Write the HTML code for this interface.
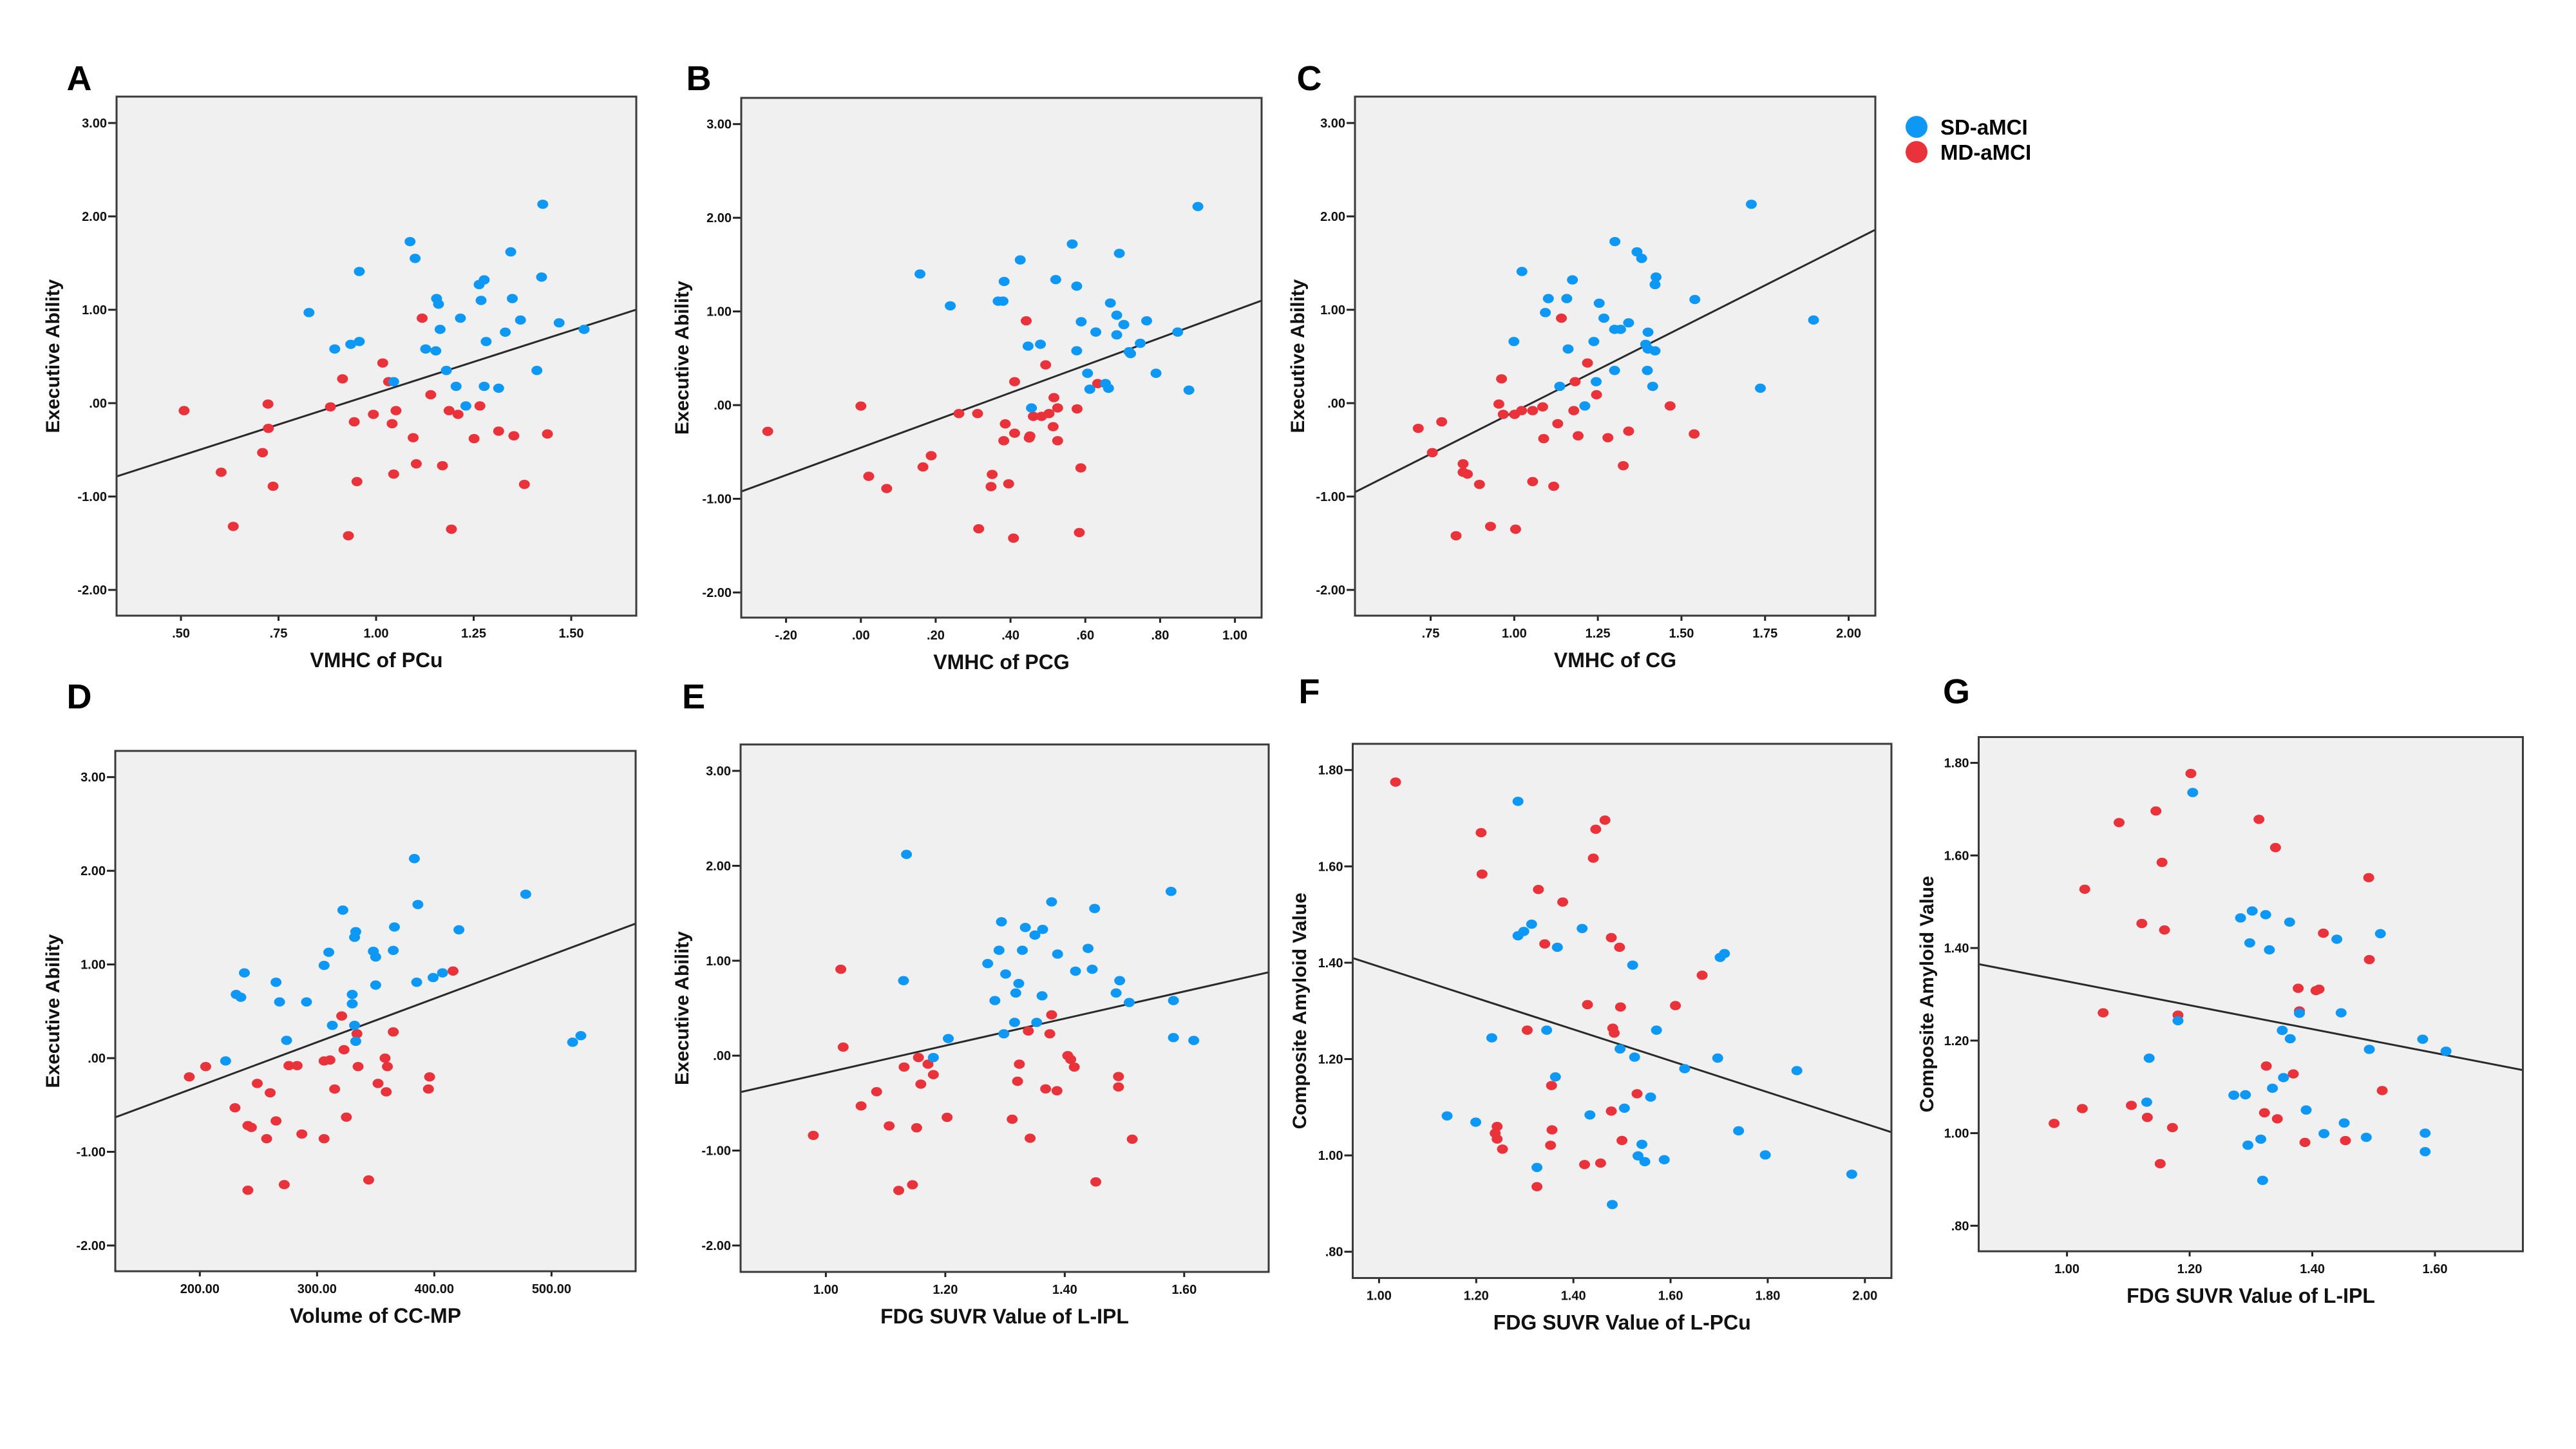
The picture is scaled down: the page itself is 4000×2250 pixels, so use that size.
<!DOCTYPE html>
<html><head><meta charset="utf-8">
<style>
html,body{margin:0;padding:0;background:#fff;}
svg{display:block;font-family:"Liberation Sans",Arial,sans-serif;}
</style></head>
<body>
<svg id="fig" width="4000" height="2250" viewBox="0 0 4000 2250" xmlns="http://www.w3.org/2000/svg">
<rect x="0" y="0" width="4000" height="2250" fill="#ffffff"/>
<g>
  <ellipse cx="2976" cy="197" rx="17" ry="17" fill="#0e98f5"/>
  <text x="3013" y="209" font-size="33" font-weight="bold" fill="#000">SD-aMCI</text>
  <ellipse cx="2976" cy="236" rx="17" ry="17" fill="#e9323a"/>
  <text x="3013" y="248" font-size="33" font-weight="bold" fill="#000">MD-aMCI</text>
</g>
</svg>
<script>
// ---------- DATA ----------
const eaTicks = [3, 2, 1, 0, -1, -2];
const amyTicks = [1.8, 1.6, 1.4, 1.2, 1.0, 0.8];
const xTicksA = [0.5, 0.75, 1.0, 1.25, 1.5];
const xTicksB = [-0.2, 0, 0.2, 0.4, 0.6, 0.8, 1.0];
const xTicksC = [0.75, 1.0, 1.25, 1.5, 1.75, 2.0];
const xTicksD = [200, 300, 400, 500];
const xTicksE = [1.0, 1.2, 1.4, 1.6];
const xTicksF = [1.0, 1.2, 1.4, 1.6, 1.8, 2.0];
const xTicksG = [1.0, 1.2, 1.4, 1.6];

const blueXA = [.828,.894,.935,.957,.957,1.087,1.10,1.127,1.153,1.155,1.16,1.164,1.18,1.045,1.205,1.216,1.23,1.264,1.269,1.277,1.277,1.282,1.314,1.331,1.345,1.349,1.37,1.412,1.424,1.427,1.469,1.533];
const blueYA = [.97,.58,.63,.66,1.41,1.73,1.55,.58,.56,1.12,1.06,.79,.35,.23,.18,.91,-.03,1.27,1.10,1.32,.18,.66,.16,.76,1.62,1.12,.89,.35,1.35,2.13,.86,.79];
const redXA = [.508,.603,.634,.709,.723,.724,.736,.883,.914,.929,.944,.951,.993,1.017,1.032,1.041,1.045,1.051,1.095,1.103,1.118,1.14,1.17,1.187,1.193,1.21,1.251,1.266,1.314,1.353,1.38,1.439];
const redYA = [-.08,-.74,-1.32,-.53,-.01,-.27,-.89,-.04,.26,-1.42,-.20,-.84,-.12,.43,.23,-.22,-.76,-.08,-.37,-.65,.91,.09,-.67,-.08,-1.35,-.12,-.38,-.03,-.30,-.35,-.87,-.33];
const fitA = [-1.234, 1.341];

const blueXB = [.158,.239,.367,.38,.383,.426,.447,.48,.456,.521,.565,.577,.577,.589,.606,.612,.628,.654,.662,.667,.684,.684,.691,.703,.717,.721,.747,.764,.789,.847,.877,.901];
const blueYB = [1.40,1.06,1.11,1.11,1.32,1.55,.63,.65,-.03,1.34,1.72,1.27,.58,.89,.34,.17,.78,.23,.18,1.09,.96,.75,1.62,.86,.57,.55,.66,.90,.34,.78,.16,2.12];
const redXB = [-.249,0,.021,.069,.166,.188,.262,.312,.315,.348,.351,.382,.386,.395,.408,.411,.411,.442,.45,.452,.461,.483,.494,.503,.514,.516,.526,.526,.578,.584,.588,.633];
const redYB = [-.28,-.01,-.76,-.89,-.66,-.54,-.09,-.09,-1.32,-.87,-.74,-.38,-.20,-.84,-1.42,.25,-.30,.90,-.35,-.33,-.12,-.12,.43,-.09,-.23,.08,-.03,-.38,-.04,-1.36,-.67,.23];
const fitB = [-0.454, 1.465];

const blueXC = [1.023,.999,1.093,1.102,1.157,1.174,1.161,1.136,1.211,1.238,1.245,1.254,1.268,1.301,1.30,1.318,1.30,1.342,1.367,1.381,1.393,1.40,1.40,1.398,1.414,1.421,1.424,1.421,1.54,1.709,1.736,1.895];
const blueYC = [1.41,.66,.97,1.12,1.12,1.32,.58,.18,-.03,.66,.23,1.07,.91,1.73,.79,.79,.35,.86,1.62,1.55,.63,.76,.58,.35,.18,.56,1.35,1.27,1.11,2.13,.16,.89];
const redXC = [.713,.755,.783,.826,.847,.847,.86,.896,.929,.954,.962,.967,1.001,1.004,1.022,1.055,1.055,1.085,1.088,1.118,1.13,1.141,1.178,1.182,1.191,1.219,1.246,1.28,1.326,1.342,1.466,1.538];
const redYC = [-.27,-.53,-.20,-1.42,-.65,-.74,-.76,-.87,-1.32,-.01,.26,-.12,-.12,-1.35,-.08,-.08,-.84,-.04,-.38,-.89,-.22,.91,-.08,.23,-.35,.43,.09,-.37,-.67,-.30,-.03,-.33];
const fitC = [-1.899, 1.806];

const blueXD = [222,231,235,238,265,268,274,291,306,310,313,322,330,330,332,333,332,333,348,350,350,365,366,383,385,386,399,407,421,478,518,525];
const blueYD = [-.03,.68,.65,.91,.81,.60,.19,.60,.99,1.13,.35,1.58,.68,.58,1.29,1.35,.35,.18,1.14,1.08,.78,1.15,1.40,2.13,.81,1.64,.86,.91,1.37,1.75,.17,.24];
const redXD = [191,205,230,241,244,241,249,257,260,265,272,276,283,287,306,306,311,315,321,323,325,334,335,344,352,358,359,360,365,395,396,416];
const redYD = [-.20,-.09,-.53,-.72,-.74,-1.41,-.27,-.86,-.37,-.67,-1.35,-.08,-.08,-.81,-.03,-.86,-.02,-.33,.45,.09,-.63,.26,-.09,-1.30,-.27,0,-.36,-.09,.28,-.33,-.20,.93];
const fitD = [-1.228, 0.00466];

const blueXE = [1.135,1.13,1.18,1.205,1.271,1.283,1.29,1.294,1.298,1.301,1.316,1.318,1.323,1.329,1.334,1.35,1.353,1.362,1.363,1.378,1.388,1.418,1.439,1.446,1.45,1.486,1.492,1.508,1.578,1.582,1.582,1.616];
const blueYE = [2.12,.79,-.02,.18,.97,.58,1.11,1.41,.23,.86,.35,.66,.76,1.11,1.35,1.27,.35,.63,1.33,1.62,1.07,.89,1.13,.91,1.55,.66,.79,.56,1.73,.58,.19,.16];
const redXE = [.979,1.025,1.029,1.059,1.085,1.106,1.122,1.131,1.145,1.152,1.155,1.159,1.171,1.18,1.203,1.312,1.321,1.324,1.339,1.342,1.368,1.375,1.378,1.387,1.405,1.41,1.416,1.452,1.49,1.49,1.513];
const redYE = [-.84,.91,.09,-.53,-.38,-.74,-1.42,-.12,-1.36,-.76,-.02,-.30,-.09,-.20,-.65,-.67,-.27,-.09,.26,-.87,-.35,.23,.43,-.37,0,-.04,-.12,-1.33,-.22,-.33,-.88];
const fitE = [-1.607, 1.427];

const blueXF = [1.14,1.199,1.232,1.286,1.286,1.298,1.314,1.325,1.345,1.363,1.367,1.418,1.434,1.48,1.496,1.505,1.522,1.526,1.533,1.541,1.547,1.559,1.571,1.587,1.629,1.697,1.702,1.711,1.74,1.795,1.86,1.973];
const blueYF = [1.082,1.069,1.244,1.735,1.456,1.465,1.48,.975,1.26,1.163,1.432,1.471,1.084,.898,1.221,1.098,1.395,1.204,.999,1.023,.987,1.121,1.26,.991,1.18,1.202,1.411,1.419,1.051,1.001,1.176,.961];
const redXF = [1.034,1.21,1.212,1.239,1.243,1.243,1.254,1.305,1.325,1.328,1.341,1.353,1.355,1.356,1.378,1.423,1.429,1.441,1.446,1.456,1.465,1.478,1.478,1.481,1.484,1.495,1.497,1.5,1.531,1.61,1.665];
const redYF = [1.775,1.67,1.584,1.046,1.06,1.034,1.013,1.26,.935,1.552,1.439,1.021,1.145,1.053,1.526,.981,1.313,1.617,1.677,.984,1.696,1.452,1.092,1.264,1.254,1.432,1.308,1.031,1.128,1.311,1.374];
const fitF = [1.718, -0.326];

const blueXG = [1.205,1.134,1.13,1.181,1.272,1.283,1.291,1.295,1.298,1.302,1.316,1.319,1.324,1.33,1.335,1.351,1.353,1.363,1.364,1.379,1.39,1.419,1.44,1.447,1.452,1.488,1.493,1.511,1.58,1.584,1.584,1.618];
const blueYG = [1.736,1.162,1.067,1.243,1.082,1.465,1.083,.974,1.411,1.48,.987,.898,1.472,1.396,1.097,1.222,1.12,1.456,1.204,1.259,1.05,.999,1.419,1.26,1.022,.991,1.181,1.431,1.203,1.0,.96,1.177];
const redXG = [.979,1.025,1.029,1.059,1.085,1.105,1.122,1.131,1.145,1.152,1.155,1.159,1.172,1.181,1.202,1.313,1.322,1.325,1.34,1.343,1.369,1.377,1.379,1.388,1.406,1.411,1.418,1.454,1.492,1.493,1.514];
const redYG = [1.021,1.053,1.527,1.26,1.671,1.06,1.453,1.034,1.696,.934,1.585,1.439,1.012,1.255,1.777,1.678,1.044,1.145,1.617,1.031,1.128,1.313,1.264,.98,1.308,1.311,1.432,.984,1.552,1.375,1.092];
const fitG = [1.586, -0.258];

// ---------- LAYOUT (geometry only) ----------
const panels = [
 {id:'a', letter:'A', lx:123, ly:120, box:[181,150,988,956], xr:[0.5,281,1.5,887], yr:[3,191,-2,916], xt:xTicksA, yt:eaTicks, xtitle:'VMHC of PCu', ytitle:'Executive Ability', ytx:82, bx:blueXA, by:blueYA, rx:redXA, ry:redYA, fit:fitA},
 {id:'b', letter:'B', lx:1085, ly:120, box:[1151,152,1959,959], xr:[-0.2,1220.6,1.0,1917.6], yr:[3,192.7,-2,920], xt:xTicksB, yt:eaTicks, xtitle:'VMHC of PCG', ytitle:'Executive Ability', ytx:1059, bx:blueXB, by:blueYB, rx:redXB, ry:redYB, fit:fitB},
 {id:'c', letter:'C', lx:2033, ly:120, box:[2104,150,2912,956], xr:[0.75,2221.5,2.0,2870.6], yr:[3,191,-2,916], xt:xTicksC, yt:eaTicks, xtitle:'VMHC of CG', ytitle:'Executive Ability', ytx:2015, bx:blueXC, by:blueYC, rx:redXC, ry:redYC, fit:fitC},
 {id:'d', letter:'D', lx:123, ly:1080, box:[179,1166,987,1974], xr:[200,310.3,500,856.4], yr:[3,1206.7,-2,1934], xt:xTicksD, yt:eaTicks, xtitle:'Volume of CC-MP', ytitle:'Executive Ability', ytx:82, bx:blueXD, by:blueYD, rx:redXD, ry:redYD, fit:fitD},
 {id:'e', letter:'E', lx:1077, ly:1080, box:[1150,1156,1970,1975], xr:[1.0,1282.4,1.6,1838.8], yr:[3,1197,-2,1934], xt:xTicksE, yt:eaTicks, xtitle:'FDG SUVR Value of L-IPL', ytitle:'Executive Ability', ytx:1059, bx:blueXE, by:blueYE, rx:redXE, ry:redYE, fit:fitE},
 {id:'f', letter:'F', lx:2033, ly:1072, box:[2100.5,1155,2937,1984.5], xr:[1.0,2141.4,2.0,2895.8], yr:[1.8,1195.7,0.8,1943.7], xt:xTicksF, yt:amyTicks, xtitle:'FDG SUVR Value of L-PCu', ytitle:'Composite Amyloid Value', ytx:2018, bx:blueXF, by:blueYF, rx:redXF, ry:redYF, fit:fitF},
 {id:'g', letter:'G', lx:3038, ly:1072, box:[3072.5,1144.5,3917.5,1943],xr:[1.0,3209.6,1.6,3781], yr:[1.8,1184.6,0.8,1903.3], xt:xTicksG, yt:amyTicks, xtitle:'FDG SUVR Value of L-IPL', ytitle:'Composite Amyloid Value', ytx:2992, bx:blueXG, by:blueYG, rx:redXG, ry:redYG, fit:fitG}
];

const NS = 'http://www.w3.org/2000/svg';
const svg = document.getElementById('fig');
function mk(tag, attrs, parent){ const e=document.createElementNS(NS,tag); for(const k in attrs) e.setAttribute(k, attrs[k]); parent.appendChild(e); return e; }
function fmt(v){ let s=Math.abs(v).toFixed(2); if(s.startsWith('0')) s=s.slice(1); return (v<0?'-':'')+s; }

panels.forEach(p => {
  const [L,T,R,B] = p.box;
  const xs = v => p.xr[1] + (v - p.xr[0]) * (p.xr[3]-p.xr[1]) / (p.xr[2]-p.xr[0]);
  const ys = v => p.yr[1] + (v - p.yr[0]) * (p.yr[3]-p.yr[1]) / (p.yr[2]-p.yr[0]);
  const xinv = px => p.xr[0] + (px - p.xr[1]) * (p.xr[2]-p.xr[0]) / (p.xr[3]-p.xr[1]);

  const g = mk('g', {}, svg);
  
  

  const lab = mk('text', {x:p.lx, y:p.ly+20, 'font-size':54, 'font-weight':'bold', 'text-anchor':'middle', fill:'#000'}, g);
  lab.textContent = p.letter;
  
  

  const bg = mk('rect', {x:L, y:T, width:R-L, height:B-T, fill:'#f0f0f0'}, g);
  
  

  const cp = mk('clipPath', {id:'clip-'+p.id}, g);
  mk('rect', {x:L, y:T, width:R-L, height:B-T}, cp);

  // y ticks
  p.yt.forEach(v => {
    const y = ys(v);
    const tk = mk('line', {x1:L-13, x2:L, y1:y, y2:y, stroke:'#222', 'stroke-width':3}, g);
    
    
    const t = mk('text', {x:L-15, y:y+7, 'font-size':20, 'font-weight':'bold', 'text-anchor':'end', fill:'#111'}, g);
    t.textContent = fmt(v);
    
    
  });
  // x ticks
  p.xt.forEach(v => {
    const x = xs(v);
    const tk = mk('line', {x1:x, x2:x, y1:B, y2:B+8, stroke:'#222', 'stroke-width':3}, g);
    
    
    const t = mk('text', {x:x, y:B+34, 'font-size':20, 'font-weight':'bold', 'text-anchor':'middle', fill:'#111'}, g);
    t.textContent = fmt(v);
    
    
  });

  // fit line
  const x0 = xinv(L), x1 = xinv(R);
  const fl = mk('line', {x1:L, y1:ys(p.fit[0]+p.fit[1]*x0), x2:R, y2:ys(p.fit[0]+p.fit[1]*x1), stroke:'#2a2a2a', 'stroke-width':3, 'clip-path':'url(#clip-'+p.id+')'}, g);
  
  

  // points
  p.rx.forEach((v,i) => {
    const c = mk('ellipse', {cx:xs(v), cy:ys(p.ry[i]), rx:8.5, ry:7.2, fill:'#e9323a'}, g);
    
    
  });
  p.bx.forEach((v,i) => {
    const c = mk('ellipse', {cx:xs(v), cy:ys(p.by[i]), rx:8.5, ry:7.2, fill:'#0e98f5'}, g);
    
    
  });

  const fr = mk('rect', {x:L, y:T, width:R-L, height:B-T, fill:'none', stroke:'#3a3a3a', 'stroke-width':3}, g);
  
  

  const xt = mk('text', {x:(L+R)/2, y:B+80, 'font-size':32, 'font-weight':'bold', 'text-anchor':'middle', fill:'#111'}, g);
  xt.textContent = p.xtitle;
  
  

  const cy = (T+B)/2;
  const yt = mk('text', {x:p.ytx, y:cy, 'font-size':30, 'font-weight':'bold', 'text-anchor':'middle', fill:'#111', transform:'rotate(-90 '+(p.ytx)+' '+cy+')', dy:'10'}, g);
  yt.textContent = p.ytitle;
  
  
});
</script>
</body></html>
